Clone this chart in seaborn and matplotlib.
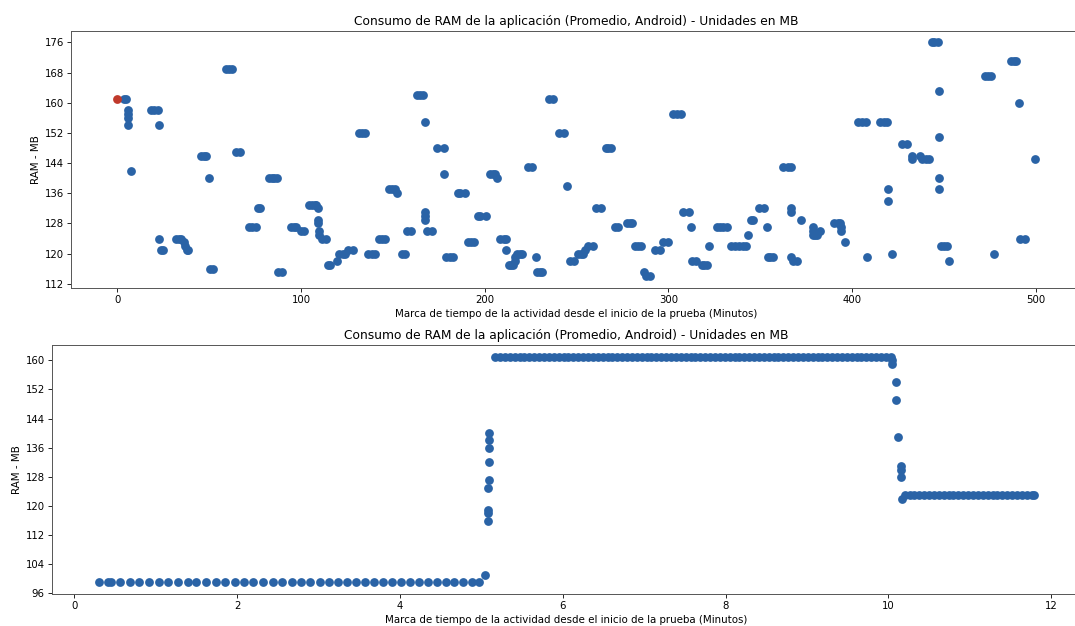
import matplotlib
matplotlib.use("Agg")
import matplotlib.pyplot as plt
import pandas as pd
import seaborn as sns

# Colores del gráfico
azul = "#2a63a6"
rojo = "#c0392b"

titulo = "Consumo de RAM de la aplicación (Promedio, Android) - Unidades en MB"
etiqueta_x = "Marca de tiempo de la actividad desde el inicio de la prueba (Minutos)"
etiqueta_y = "RAM - MB"

# ----------- Gráfica 1: prueba larga -------------
# Primer punto (marcado en rojo)
inicio_x = [0]
inicio_y = [161]

# Resto de puntos (cada línea de x corresponde a la misma línea de y)
minutos_1 = [
    3.5, 4.8,
    5.6, 5.6, 5.6, 5.6,
    7.3,
    18.4, 20, 22,
    22.5, 22.5,
    23.5, 24.6,
    32, 33.3, 34.4, 36.2, 37, 37.8, 38.6,
    45.5, 47, 48.4, 49.7,
    50.6, 52.2,
    59.3, 61, 62.6,
    64.6, 66.6,
    71.5, 73.3, 75.3,
    76.6, 77.6,
    82.4, 84, 85.5, 86.8,
    87.5, 89.5,
    94.3, 96, 97.1, 99.7, 101.7,
    104.3, 106, 107.4, 108.3, 109.3, 109.3, 109.3,
    109.5, 109.5, 111.5, 113.5,
    114.9, 116, 119.7,
    120.6, 122.6, 124.1, 125.6, 128.1,
    131.6, 133.3, 135,
    136.5, 138.5, 140.4,
    142.5, 144.2, 145.9,
    147.9, 149.6, 151.3, 152.1,
    154.7, 156.8,
    157.9, 159.9,
    163, 164.6, 166.3,
    167.6, 167.6, 167.6, 167.6,
    168.5, 171.4,
    174, 178, 178,
    178.9, 181, 182.7,
    185.3, 186.6, 189.2,
    190.7, 192.3, 193.9,
    196.2, 197.2, 200.9,
    202.8, 204.5, 205.8, 206.8,
    208.5, 210.2, 211.4, 211.8,
    213, 214.5, 215.5, 216.7, 216.7,
    217.5, 219, 220,
    223.5, 225.5, 228,
    228.5, 230, 231.4,
    235, 237.3,
    240.3, 243, 244.5,
    246.2, 248.5,
    251, 252.5, 253.6, 254.5, 256.2, 258.8,
    260.7, 263.2,
    265.8, 267.3, 268.7,
    270.8, 272.4,
    277.2, 278.8, 280.4,
    282, 283.5, 284.9,
    286.5, 288, 290.2,
    292.6, 295.5, 297, 300,
    302.6, 304.7, 306.8,
    307.7, 310.9, 312.2,
    312.6, 315, 318, 319.5, 321,
    322.2,
    326.2, 328, 329.8, 331.8,
    334, 336.3, 338.6, 340.8, 342.4,
    343.2, 345, 346,
    349, 352, 353.5,
    354, 355.5, 357,
    362.6, 364.8, 366.8,
    366.8, 366.8, 366.8, 367.9, 370.1,
    372.3,
    378.4, 378.4, 378.4, 379.5, 381, 382.3,
    390, 392.3, 393.3, 394.1, 394.1, 395.9,
    403.2, 405.3, 407.4, 408.1,
    415.4, 417.3, 418.8,
    419.6, 419.6, 421.8,
    427.2, 429.8,
    432.7, 432.7, 436.9, 438.2, 440.2, 442,
    443.2, 444.8, 446.5,
    447.2, 447.4, 447.4, 447.4,
    448.5, 450.2, 451.6, 452.5,
    472.2, 474, 475.6, 477.1,
    486.4, 488, 489.2, 490.9,
    491.3, 493.8, 499.3,
]
ram_1 = [
    161, 161,
    158, 157, 156, 154,
    142,
    158, 158, 158,
    154, 124,
    121, 121,
    124, 124, 124, 123, 122, 121, 121,
    146, 146, 146, 140,
    116, 116,
    169, 169, 169,
    147, 147,
    127, 127, 127,
    132, 132,
    140, 140, 140, 140,
    115, 115,
    127, 127, 127, 126, 126,
    133, 133, 133, 133, 132, 129, 128,
    126, 125, 124, 124,
    117, 117, 118,
    120, 120, 120, 121, 121,
    152, 152, 152,
    120, 120, 120,
    124, 124, 124,
    137, 137, 137, 136,
    120, 120,
    126, 126,
    162, 162, 162,
    155, 131, 130, 129,
    126, 126,
    148, 148, 141,
    119, 119, 119,
    136, 136, 136,
    123, 123, 123,
    130, 130, 130,
    141, 141, 141, 140,
    124, 124, 124, 121,
    117, 117, 117, 118, 119,
    120, 120, 120,
    143, 143, 119,
    115, 115, 115,
    161, 161,
    152, 152, 138,
    118, 118,
    120, 120, 120, 121, 122, 122,
    132, 132,
    148, 148, 148,
    127, 127,
    128, 128, 128,
    122, 122, 122,
    115, 114, 114,
    121, 121, 123, 123,
    157, 157, 157,
    131, 131, 127,
    118, 118, 117, 117, 117,
    122,
    127, 127, 127, 127,
    122, 122, 122, 122, 122,
    125, 129, 129,
    132, 132, 127,
    119, 119, 119,
    143, 143, 143,
    132, 131, 119, 118, 118,
    129,
    127, 126, 125, 125, 125, 126,
    128, 128, 128, 127, 126, 123,
    155, 155, 155, 119,
    155, 155, 155,
    137, 134, 120,
    149, 149,
    146, 145, 146, 145, 145, 145,
    176, 176, 176,
    163, 151, 140, 137,
    122, 122, 122, 118,
    167, 167, 167, 120,
    171, 171, 171, 160,
    124, 124, 145,
]

# ----------- Gráfica 2: prueba corta -------------
minutos_bajo = [0.30, 0.41, 0.45, 0.56, 0.68, 0.80, 0.92, 1.04, 1.15, 1.27,
                1.39, 1.50, 1.62, 1.74, 1.85, 1.97, 2.09, 2.20, 2.32, 2.44,
                2.55, 2.67, 2.79, 2.90, 3.02, 3.13, 3.24, 3.35, 3.46, 3.57,
                3.68, 3.79, 3.90, 4.01, 4.12, 4.23, 4.34, 4.45, 4.56, 4.67,
                4.78, 4.89, 4.97]
ram_bajo = [99] * len(minutos_bajo)

minutos_subida = [5.05, 5.08, 5.08, 5.08, 5.08, 5.09, 5.09, 5.10, 5.09, 5.10]
ram_subida = [101, 116, 118, 119, 125, 127, 132, 136, 138, 140]

minutos_alto = [5.17, 5.23, 5.29, 5.35, 5.41, 5.47, 5.53, 5.59, 5.65, 5.71,
                5.77, 5.83, 5.89, 5.95, 6.01, 6.07, 6.13, 6.19, 6.25, 6.31,
                6.37, 6.43, 6.49, 6.55, 6.61, 6.67, 6.73, 6.79, 6.85, 6.91,
                6.97, 7.03, 7.09, 7.15, 7.21, 7.27, 7.33, 7.39, 7.45, 7.51,
                7.57, 7.63, 7.69, 7.75, 7.81, 7.87, 7.93, 7.99, 8.05, 8.11,
                8.17, 8.23, 8.29, 8.35, 8.41, 8.47, 8.53, 8.59, 8.65, 8.71,
                8.77, 8.83, 8.89, 8.95, 9.01, 9.07, 9.13, 9.19, 9.25, 9.31,
                9.37, 9.43, 9.49, 9.55, 9.61, 9.67, 9.73, 9.79, 9.85, 9.91,
                9.97, 10.03]
ram_alto = [161] * len(minutos_alto)

minutos_bajada = [10.04, 10.05, 10.09, 10.09, 10.12, 10.15, 10.15, 10.15, 10.17]
ram_bajada = [160, 159, 154, 149, 139, 131, 130, 128, 122]

minutos_final = [10.20, 10.26, 10.32, 10.38, 10.44, 10.50, 10.56, 10.62, 10.68,
                 10.74, 10.80, 10.86, 10.92, 10.98, 11.04, 11.10, 11.16, 11.22,
                 11.28, 11.34, 11.40, 11.46, 11.52, 11.58, 11.64, 11.70, 11.76,
                 11.79]
ram_final = [123] * len(minutos_final)

df1 = pd.DataFrame({"minuto": minutos_1, "ram": ram_1})
df_ini = pd.DataFrame({"minuto": inicio_x, "ram": inicio_y})
df2 = pd.DataFrame({
    "minuto": minutos_bajo + minutos_subida + minutos_alto + minutos_bajada + minutos_final,
    "ram": ram_bajo + ram_subida + ram_alto + ram_bajada + ram_final,
})

plt.rcParams["xtick.major.size"] = 2.6
plt.rcParams["ytick.major.size"] = 2.6
plt.rcParams["xtick.major.pad"] = 2.6
plt.rcParams["ytick.major.pad"] = 2.6
plt.rcParams["xtick.major.width"] = 0.6
plt.rcParams["ytick.major.width"] = 0.6

fig = plt.figure(figsize=(10.75, 6.26), dpi=100)
ax1 = fig.add_axes([0.0665, 0.540, 0.9386, 0.411])
ax2 = fig.add_axes([0.0484, 0.0516, 0.957, 0.3966])

sns.scatterplot(data=df_ini, x="minuto", y="ram", ax=ax1, color=rojo, s=40, linewidth=0, zorder=3)
sns.scatterplot(data=df1, x="minuto", y="ram", ax=ax1, color=azul, s=40, linewidth=0)
sns.scatterplot(data=df2, x="minuto", y="ram", ax=ax2, color=azul, s=40, linewidth=0)

for ax in (ax1, ax2):
    ax.set_title(titulo, fontsize=8.8, pad=4.4)
    ax.set_xlabel(etiqueta_x, fontsize=7.4, labelpad=2.9)
    ax.set_ylabel(etiqueta_y, fontsize=7.4, labelpad=2.9)
    ax.tick_params(labelsize=7.3)
    for sp in ax.spines.values():
        sp.set_color("#555555")
        sp.set_linewidth(0.7)

ax1.set_yticks([112, 120, 128, 136, 144, 152, 160, 168, 176])
ax1.set_xticks([0, 100, 200, 300, 400, 500])
ax2.set_yticks([96, 104, 112, 120, 128, 136, 144, 152, 160])
ax2.set_xticks([0, 2, 4, 6, 8, 10, 12])

fig.savefig("out.png", dpi=100)
